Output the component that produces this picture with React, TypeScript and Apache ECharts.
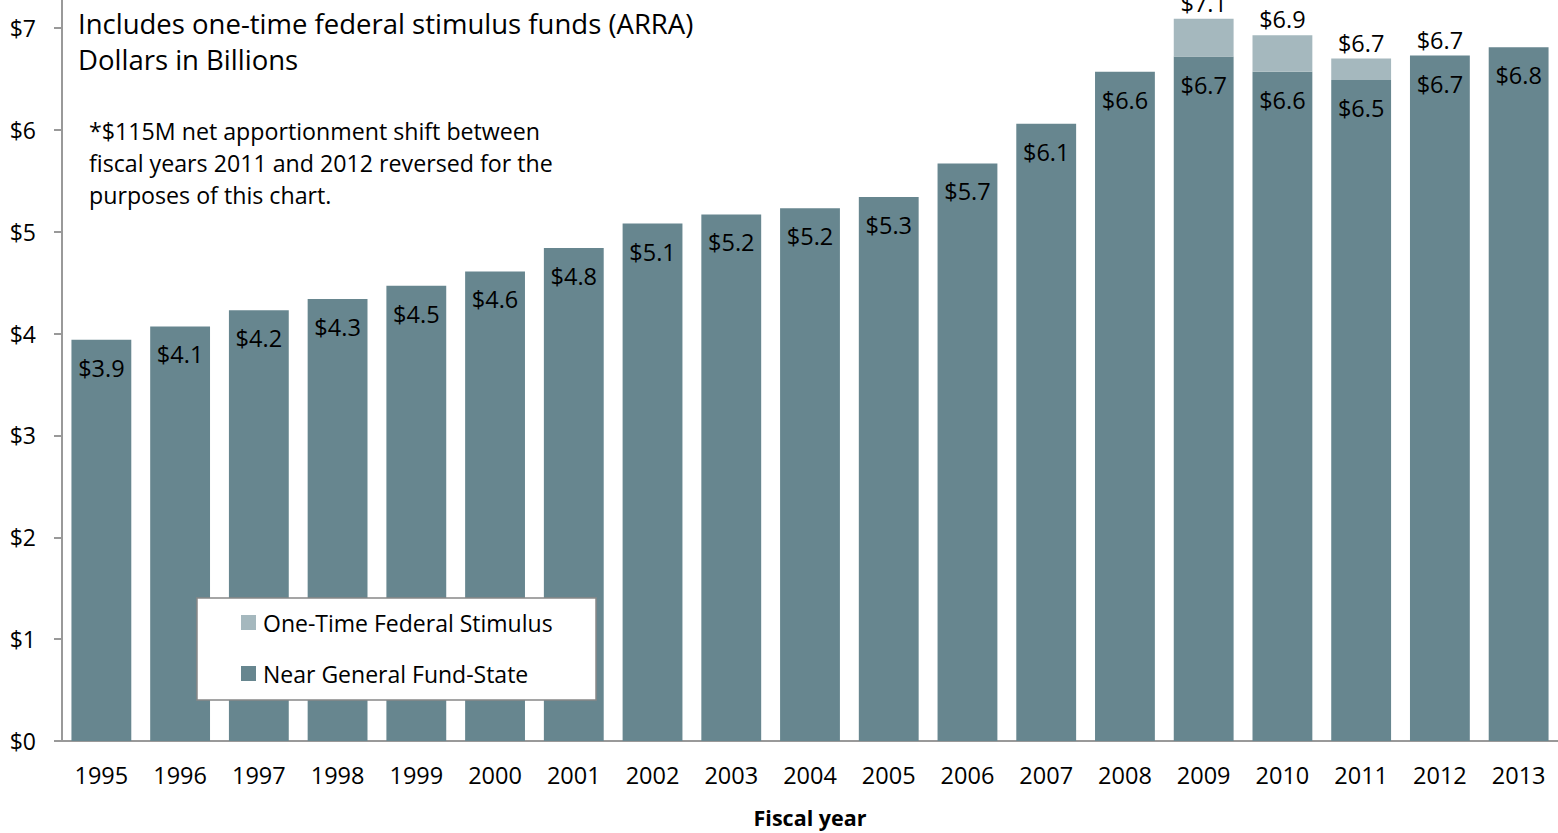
import React, { useEffect, useRef } from "react";
import * as echarts from "echarts";

const years = ["1995","1996","1997","1998","1999","2000","2001","2002","2003","2004","2005","2006","2007","2008","2009","2010","2011","2012","2013"];
const nearGF = [3.94,4.07,4.23,4.34,4.47,4.61,4.84,5.08,5.17,5.23,5.34,5.67,6.06,6.57,6.72,6.57,6.49,6.73,6.81];
const stimulus = [null,null,null,null,null,null,null,null,null,null,null,null,null,null,0.37,0.36,0.21,0,null];
const yTicks = [0,1,2,3,4,5,6,7];

const FONT = "Open Sans";
const DARK = "#67868f";
const LIGHT = "#a5b8be";
const AXIS = "#999999";

export default function App() {
  const ref = useRef<HTMLDivElement>(null);
  useEffect(() => {
    const chart = echarts.init(ref.current!, null, { renderer: "svg" });
    chart.setOption({
      animation: false,
      backgroundColor: "#ffffff",
      textStyle: { fontFamily: FONT },
      grid: { left: 62, width: 1499, top: 28, bottom: 88, containLabel: false },
      xAxis: {
        type: "category",
        data: years,
        axisLine: { lineStyle: { color: AXIS, width: 2 } },
        axisTick: { show: false },
        axisLabel: { color: "#000", fontSize: 23.5, margin: 22, fontFamily: FONT },
        name: "Fiscal year",
        nameLocation: "middle",
        nameGap: 65,
        nameTextStyle: { color: "#000", fontSize: 21.5, fontWeight: "bold", fontFamily: FONT },
      },
      yAxis: {
        type: "value",
        min: yTicks[0],
        max: yTicks[yTicks.length - 1],
        interval: 1,
        splitLine: { show: false },
        axisLine: { show: true, lineStyle: { color: AXIS, width: 2 } },
        axisTick: { show: true, length: 8, lineStyle: { color: AXIS, width: 2 } },
        axisLabel: { color: "#000", fontSize: 23, margin: 26, fontFamily: FONT, formatter: (v: number) => "$" + v },
      },
      legend: {
        orient: "vertical",
        left: 241,
        top: 611,
        z: 20,
        itemWidth: 15,
        itemHeight: 15,
        itemGap: 28,
        icon: "rect",
        padding: 0,
        textStyle: { color: "#000", fontSize: 23, lineHeight: 23, fontFamily: FONT, padding: [0, 0, 0, 2] },
        data: ["One-Time Federal Stimulus", "Near General Fund-State"],
      },
      graphic: [
        { type: "line", z: 5, shape: { x1: 62, y1: 0, x2: 62, y2: 28 }, style: { stroke: AXIS, lineWidth: 2 } },
        { type: "rect", z: 15, shape: { x: 197, y: 598, width: 399, height: 102 }, style: { fill: "#fff", stroke: "#888", lineWidth: 1.5 } },
        { type: "text", z: 5, left: 78, top: 9, style: { text: "Includes one-time federal stimulus funds (ARRA)", fontSize: 27.5, fontFamily: FONT, fill: "#000" } },
        { type: "text", z: 5, left: 78, top: 45, style: { text: "Dollars in Billions", fontSize: 27.5, fontFamily: FONT, fill: "#000" } },
        { type: "text", z: 5, left: 89, top: 115, style: { text: "*$115M net apportionment shift between\nfiscal years 2011 and 2012 reversed for the\npurposes of this chart.", fontSize: 23.2, lineHeight: 32, fontFamily: FONT, fill: "#000" } },
      ],
      series: [
        {
          name: "Near General Fund-State",
          type: "bar",
          stack: "total",
          barWidth: "76%",
          clip: false,
          itemStyle: { color: DARK },
          data: nearGF,
          label: {
            show: true,
            position: "insideTop",
            distance: 16,
            fontSize: 23.5,
            fontFamily: FONT,
            color: "#000",
            formatter: (p: any) => "$" + Number(p.value).toFixed(1),
          },
        },
        {
          name: "One-Time Federal Stimulus",
          type: "bar",
          stack: "total",
          barWidth: "76%",
          clip: false,
          itemStyle: { color: LIGHT },
          data: stimulus,
          label: {
            show: true,
            position: "top",
            distance: 4,
            fontSize: 23.5,
            fontFamily: FONT,
            color: "#000",
            formatter: (p: any) => "$" + (nearGF[p.dataIndex] + (stimulus[p.dataIndex] || 0)).toFixed(1),
          },
        },
      ],
    });
    return () => chart.dispose();
  }, []);
  return (
    <div
      ref={ref}
      style={{ position: "fixed", left: 0, top: 0, width: 1558, height: 833, background: "#fff" }}
    />
  );
}
